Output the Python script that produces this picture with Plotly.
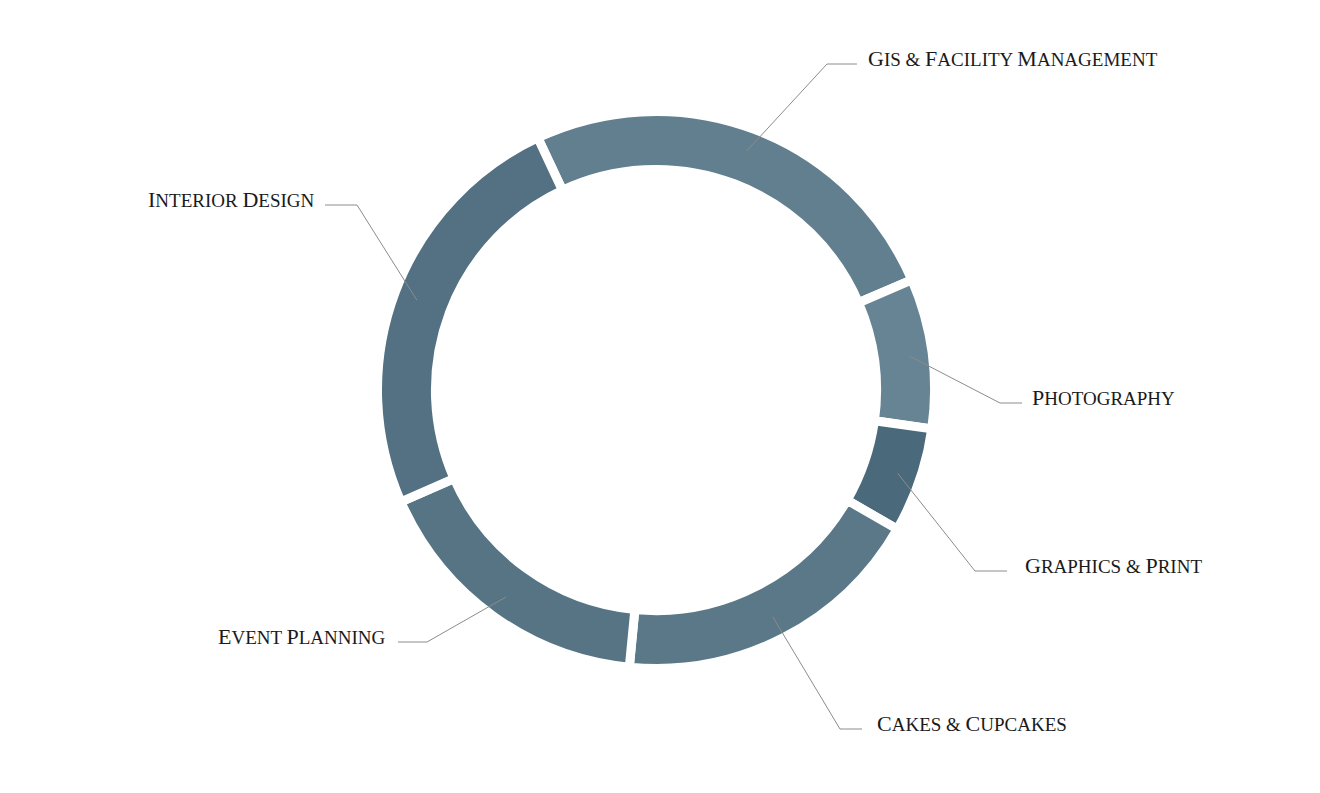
import math
import plotly.graph_objects as go

# service share (percent of the circle)
services = ["GIS & Facility Management", "Photography", "Graphics & Print",
            "Cakes & Cupcakes", "Event Planning", "Interior Design"]
shares = [25.5, 8.7, 6.1, 18.2, 16.9, 24.6]
slice_colors = ["#617f8e", "#668493", "#4a6a7b", "#5a7888", "#567484", "#537182"]

# where each label sits (elbow of the leader line, end of the short flat part, side)
label_elbow = [(827, 64), (1000, 403), (975, 571), (840, 729), (427, 642), (357, 205)]
label_flat = [(857, 64), (1022, 403), (1007, 571), (862, 729), (398, 642), (325, 205)]
label_text_x = [866, 1030, 1023, 875, 388, 317]
label_side = ["left", "left", "left", "left", "right", "right"]

W, H = 1320, 793
OFF = 8                    # page body margin, so pixel coords match the screen
cx, cy = 656, 390          # ring centre on screen
R = 278.5                  # pie radius
hole = 0.792
start_angle = -25.1        # first slice starts here (deg, clockwise from 12)


def small_caps(s, big=22, small=19):
    out = []
    for word in s.split(" "):
        if word[0].isalpha():
            out.append('<span style="font-size:%dpx">%s</span>%s' % (big, word[0].upper(), word[1:].upper()))
        else:
            out.append(word)
    return " ".join(out)


fig = go.Figure()

px_x = cx - OFF
px_y = H - (cy - OFF)
fig.add_trace(go.Pie(
    labels=services,
    values=shares,
    sort=False,
    direction="clockwise",
    rotation=start_angle,
    hole=hole,
    textinfo="none",
    hoverinfo="label+percent",
    marker=dict(colors=slice_colors, line=dict(color="white", width=9)),
    domain=dict(x=[(px_x - R) / W, (px_x + R) / W], y=[(px_y - R) / H, (px_y + R) / H]),
    showlegend=False,
))

# leader lines from the middle of each slice (shapes so they sit over the ring)
total = sum(shares)
r_mid = R * (1 + hole) / 2 + 6
acc = 0
shapes = []
for i, v in enumerate(shares):
    mid = math.radians(start_angle + 360 * (acc + v / 2) / total)
    acc += v
    x0 = cx + r_mid * math.sin(mid)
    y0 = cy - r_mid * math.cos(mid)
    ex, ey = label_elbow[i]
    fx, fy = label_flat[i]
    shapes.append(dict(
        type="path", xref="x", yref="y", layer="above",
        path="M %.1f %.1f L %d %d L %d %d" % (x0, y0, ex, ey, fx, fy),
        line=dict(color="#8c8c8c", width=1),
    ))
    fig.add_annotation(
        x=label_text_x[i], y=ey - 6, xref="x", yref="y",
        text=small_caps(services[i]), showarrow=False,
        xanchor=label_side[i], yanchor="middle",
        font=dict(family="Liberation Serif", size=19, color="#1a1a1a"),
    )

# invisible trace so the pixel axes exist
fig.add_trace(go.Scatter(x=[OFF, W + OFF], y=[OFF, H + OFF], mode="markers",
                         marker=dict(opacity=0), hoverinfo="skip", showlegend=False))

fig.update_layout(
    width=W, height=H,
    margin=dict(l=0, r=0, t=0, b=0),
    paper_bgcolor="white", plot_bgcolor="white",
    shapes=shapes,
    xaxis=dict(range=[OFF, W + OFF], visible=False, fixedrange=True),
    yaxis=dict(range=[H + OFF, OFF], visible=False, fixedrange=True),
)

fig.write_html("out.html")
